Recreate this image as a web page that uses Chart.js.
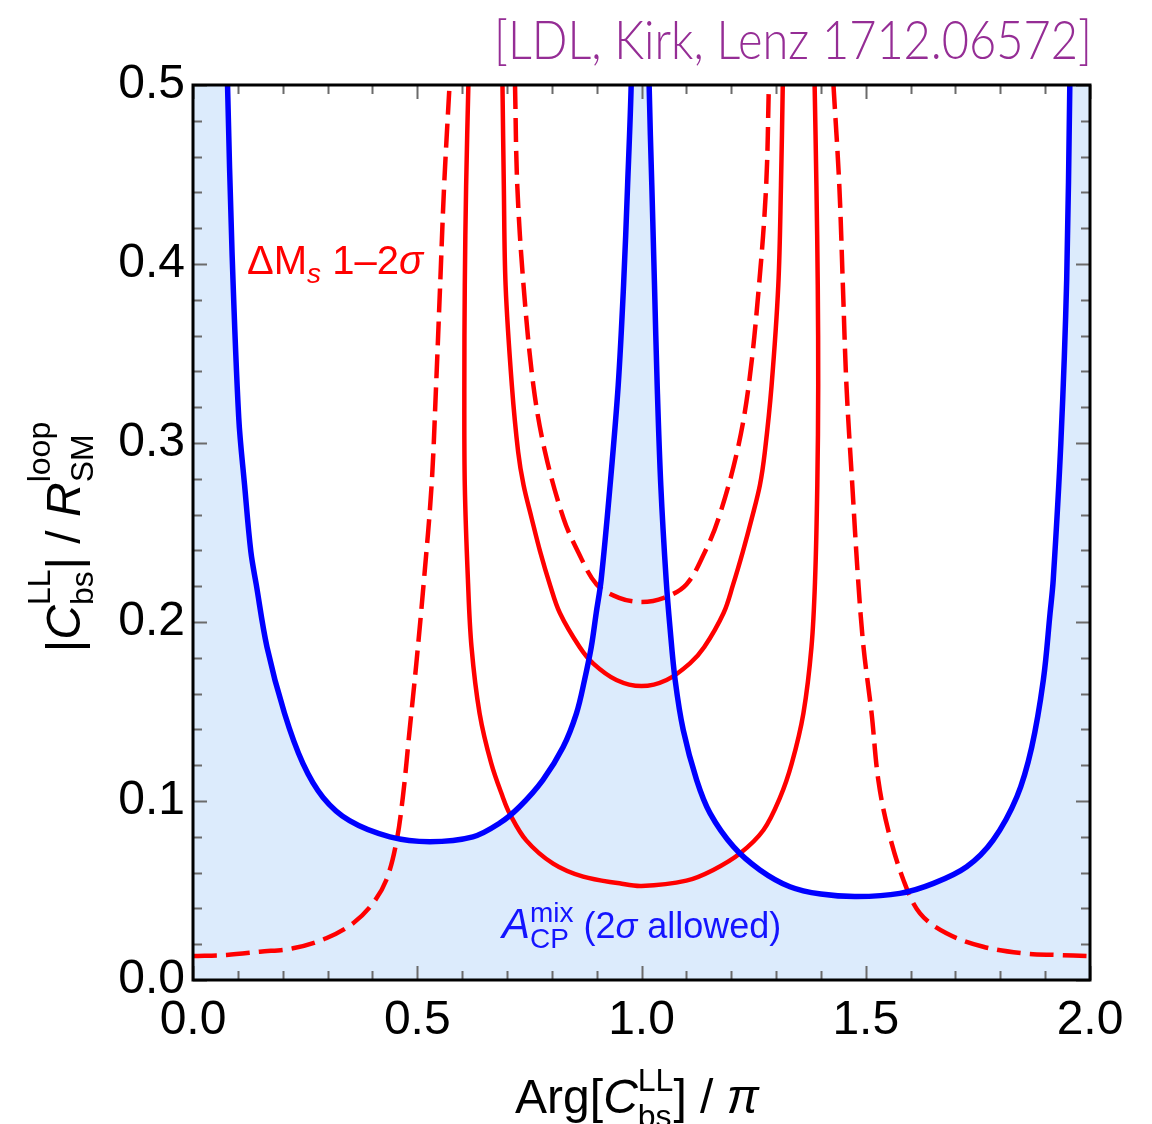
<!DOCTYPE html>
<html>
<head>
<meta charset="utf-8">
<title>|C_bs^LL| vs Arg</title>
<script src="https://cdn.jsdelivr.net/npm/chart.js@4.4.1/dist/chart.umd.min.js"></script>
<style>
  html, body { margin: 0; padding: 0; background: #fff; }
  #wrap { width: 1152px; height: 1124px; }
</style>
</head>
<body>
<div id="wrap"><canvas id="c" width="1152" height="1124"></canvas></div>
<script>
/* ============================================================
   |C_bs^LL| / R_SM^loop  vs  Arg[C_bs^LL] / pi
   - blue: A_CP^mix 2σ boundary (region below is allowed, shaded)
   - red : ΔM_s 1σ (solid) / 2σ (dashed) contours
   values; >0.5 = curve runs out of the frame
   ============================================================ */

// ---------- data ----------
const blueArg = [0.000, 0.066, 0.077, 0.087, 0.102, 0.115, 0.129, 0.141, 0.165, 0.204, 0.245, 0.290, 0.349, 0.439, 0.528,
  0.624, 0.684, 0.728, 0.780, 0.825, 0.855, 0.873, 0.888, 0.899, 0.910, 0.930, 0.948, 0.960, 0.969, 0.977, 0.985,
  1.000, 1.011, 1.017, 1.023, 1.029, 1.035, 1.043, 1.055, 1.064, 1.075, 1.093, 1.123, 1.153, 1.205, 1.264, 1.331,
  1.400, 1.480, 1.576, 1.651, 1.725, 1.784, 1.837, 1.870, 1.896, 1.911, 1.918, 1.935, 1.948, 1.955, 1.961, 2.000];
const blueMag = [0.80, 0.62, 0.500, 0.407, 0.314, 0.2765, 0.2393, 0.221, 0.186, 0.149, 0.121, 0.102, 0.089, 0.080, 0.0773,
  0.080, 0.0877, 0.0968, 0.1117, 0.130, 0.149, 0.1676, 0.186, 0.205, 0.2235, 0.2765, 0.332, 0.388, 0.444, 0.500, 0.60,
  0.80, 0.60, 0.500, 0.444, 0.388, 0.332, 0.2765, 0.2235, 0.1955, 0.1676, 0.1397, 0.1117, 0.0931, 0.0745, 0.0615, 0.0521,
  0.0480, 0.0466, 0.0484, 0.054, 0.0633, 0.0782, 0.1024, 0.130, 0.1676, 0.205, 0.2235, 0.300, 0.391, 0.500, 0.60, 0.80];

// ΔM_s 2σ, outer branches (dashed)
const dashOutLArg = [0.000, 0.075, 0.149, 0.223, 0.297, 0.357, 0.401, 0.431, 0.453, 0.468, 0.483, 0.498, 0.515,
  0.532, 0.542, 0.551, 0.560, 0.572];
const dashOutLMag = [0.0134, 0.0140, 0.0158, 0.0177, 0.0233, 0.0317, 0.0428, 0.0559, 0.0764, 0.1024, 0.1397,
  0.1769, 0.2235, 0.2765, 0.332, 0.388, 0.444, 0.500];
const dashOutRArg = [1.428, 1.441, 1.449, 1.457, 1.470, 1.483, 1.495, 1.513, 1.528, 1.550, 1.584, 1.621, 1.680,
  1.762, 1.851, 1.925, 2.000];
const dashOutRMag = [0.500, 0.444, 0.388, 0.332, 0.2765, 0.2235, 0.186, 0.149, 0.1117, 0.0838, 0.0559, 0.0372,
  0.0261, 0.0186, 0.0149, 0.0140, 0.0134];

// ΔM_s 1σ, outer U (solid)
const solidOutArg = [0.614, 0.609, 0.606, 0.605, 0.606, 0.613, 0.621, 0.639, 0.665, 0.691, 0.706, 0.743, 0.803,
  0.870, 0.951, 1.000, 1.100, 1.160, 1.220, 1.272, 1.309, 1.335, 1.361, 1.379, 1.387, 1.392, 1.394, 1.393,
  1.390, 1.386];
const solidOutMag = [0.500, 0.444, 0.388, 0.332, 0.2765, 0.2235, 0.186, 0.149, 0.121, 0.102, 0.093, 0.078, 0.065,
  0.0577, 0.054, 0.0525, 0.0555, 0.0615, 0.0708, 0.0838, 0.102, 0.121, 0.149, 0.186, 0.2235, 0.2765,
  0.332, 0.388, 0.444, 0.500];

// ΔM_s 1σ, inner U (solid)
const solidInArg = [0.690, 0.693, 0.697, 0.711, 0.725, 0.737, 0.755, 0.774, 0.796, 0.818, 0.862, 0.892, 0.944,
  1.000, 1.056, 1.108, 1.140, 1.183, 1.204, 1.226, 1.246, 1.264, 1.275, 1.290, 1.305, 1.311, 1.315];
const solidInMag = [0.500, 0.444, 0.388, 0.332, 0.295, 0.2765, 0.258, 0.2393, 0.2207, 0.205, 0.186, 0.1769,
  0.1676, 0.1642, 0.1676, 0.1769, 0.186, 0.205, 0.2207, 0.2393, 0.258, 0.2765, 0.295, 0.332, 0.388, 0.444, 0.500];

// ΔM_s 2σ, inner U (dashed)
const dashInArg = [0.718, 0.723, 0.737, 0.759, 0.785, 0.826, 0.859, 0.900, 0.950, 1.000, 1.050, 1.100, 1.141,
  1.172, 1.213, 1.239, 1.262, 1.278, 1.284];
const dashInMag = [0.500, 0.444, 0.388, 0.332, 0.295, 0.258, 0.239, 0.221, 0.2135, 0.2112, 0.2135, 0.221, 0.239,
  0.258, 0.295, 0.332, 0.388, 0.444, 0.500];

const xTicks = [0.0, 0.5, 1.0, 1.5, 2.0];
const yTicks = [0.0, 0.1, 0.2, 0.3, 0.4, 0.5];

// ---------- style ----------
const SANS = '"Liberation Sans", Arial, sans-serif';
const RED = '#ff0000', BLUE = '#0000ff', SHADE = '#dcebfc';
const DASH = [24, 9];

const pts = (xs, ys) => xs.map((x, i) => ({ x, y: ys[i] }));

function redLine(xs, ys, dashed) {
  return {
    data: pts(xs, ys), borderColor: RED, borderWidth: 4.5, borderDash: dashed ? DASH : [],
    borderCapStyle: 'butt', fill: false, pointRadius: 0, clip: 0, order: 1,
  };
}

// ---------- rich text (sub/superscripts) ----------
function setFont(ctx, r) {
  ctx.font = (r.italic ? 'italic ' : '') + (r.weight || 'normal') + ' ' + r.size + 'px ' + (r.family || SANS);
}
function runWidth(ctx, r) {
  if (r.stack) return Math.max(...r.stack.map(s => runWidth(ctx, s)));
  setFont(ctx, r); return ctx.measureText(r.t).width;
}
function drawRich(ctx, runs, x, y, align) {
  const total = runs.reduce((a, r) => a + runWidth(ctx, r), 0);
  let cx = align === 'center' ? x - total / 2 : x;
  ctx.textAlign = 'left'; ctx.textBaseline = 'alphabetic';
  runs.forEach(r => {
    const parts = r.stack || [r];
    parts.forEach(p => { setFont(ctx, p); ctx.fillText(p.t, cx, y + (p.dy || 0)); });
    cx += runWidth(ctx, r);
  });
}

// ---------- frame, inward ticks, labels ----------
const decor = {
  id: 'decor',
  afterDatasetsDraw(chart) {
    const { ctx, chartArea: a, scales: { x, y } } = chart;
    ctx.save();
    ctx.strokeStyle = '#6b6b6b'; ctx.lineWidth = 2;
    ctx.beginPath();
    for (let i = 0; i <= 20; i++) {                 // x: minor 0.1, major 0.5
      const px = Math.round(x.getPixelForValue(i / 10)) + 0.5, len = i % 5 === 0 ? 14 : 9;
      ctx.moveTo(px, a.bottom); ctx.lineTo(px, a.bottom - len);
      ctx.moveTo(px, a.top); ctx.lineTo(px, a.top + len);
    }
    for (let i = 0; i <= 25; i++) {                 // y: minor 0.02, major 0.1
      const py = Math.round(y.getPixelForValue(i / 50)) + 0.5, len = i % 5 === 0 ? 14 : 9;
      ctx.moveTo(a.left, py); ctx.lineTo(a.left + len, py);
      ctx.moveTo(a.right, py); ctx.lineTo(a.right - len, py);
    }
    ctx.stroke();
    ctx.strokeStyle = '#000'; ctx.lineWidth = 3;
    ctx.strokeRect(a.left, a.top, a.right - a.left, a.bottom - a.top);
    ctx.restore();
  },
  afterDraw(chart) {
    const { ctx } = chart;
    ctx.save();

    // citation, top right
    ctx.fillStyle = '#952d95';
    const cite = '[LDL, Kirk, Lenz 1712.06572]';
    ctx.font = '300 54px Lato, "Open Sans", sans-serif';
    const w = ctx.measureText(cite).width, target = 598;
    ctx.save();
    ctx.translate(1092 - target, 59); ctx.scale(target / w, 1);
    ctx.textAlign = 'left'; ctx.textBaseline = 'alphabetic';
    ctx.fillText(cite, 0, 0);
    ctx.restore();

    // ΔM_s label
    ctx.fillStyle = RED;
    drawRich(ctx, [
      { t: 'ΔM', size: 40 }, { t: 's', size: 28, italic: true, dy: 9 },
      { t: ' 1–2', size: 40 }, { t: 'σ', size: 40, italic: true },
    ], 247, 274);

    // A_CP^mix label
    ctx.fillStyle = '#1414ff';
    drawRich(ctx, [
      { t: 'A', size: 42, italic: true },
      { stack: [{ t: 'mix', size: 28, dy: -16 }, { t: 'CP', size: 28, dy: 10 }] },
      { t: ' (2', size: 36 }, { t: 'σ', size: 36, italic: true }, { t: ' allowed)', size: 36 },
    ], 502, 938);

    // axis titles
    ctx.fillStyle = '#000';
    drawRich(ctx, [
      { t: 'Arg[', size: 48 }, { t: 'C', size: 48, italic: true },
      { stack: [{ t: 'LL', size: 32, dy: -22 }, { t: 'bs', size: 32, dy: 14 }] },
      { t: '] / ', size: 48 }, { t: 'π', size: 48, italic: true },
    ], 637, 1113, 'center');

    ctx.save();
    ctx.translate(80, 537); ctx.rotate(-Math.PI / 2);
    drawRich(ctx, [
      { t: '|', size: 48 }, { t: 'C', size: 48, italic: true },
      { stack: [{ t: 'LL', size: 32, dy: -30 }, { t: 'bs', size: 32, dy: 13 }] },
      { t: '| / ', size: 48 }, { t: 'R', size: 48, italic: true },
      { stack: [{ t: 'loop', size: 32, dy: -30 }, { t: 'SM', size: 32, dy: 13 }] },
    ], 0, 0, 'center');
    ctx.restore();

    ctx.restore();
  },
};

// ---------- chart ----------
Chart.defaults.font.family = SANS;

new Chart(document.getElementById('c'), {
  type: 'line',
  data: {
    datasets: [
      { data: pts(blueArg, blueMag), borderColor: BLUE, borderWidth: 5.5, backgroundColor: SHADE,
        fill: 'origin', pointRadius: 0, clip: 0, order: 0 },
      redLine(solidInArg, solidInMag, false),
      redLine(solidOutArg, solidOutMag, false),
      redLine(dashInArg, dashInMag, true),
      redLine(dashOutLArg, dashOutLMag, true),
      redLine(dashOutRArg, dashOutRMag, true),
    ],
  },
  options: {
    responsive: false, animation: false, devicePixelRatio: 1,
    layout: { padding: { top: 85, right: 62, left: 0, bottom: 0 } },
    elements: { line: { tension: 0.35 }, point: { radius: 0 } },
    plugins: {
      legend: { display: false }, tooltip: { enabled: false },
      filler: { drawTime: 'beforeDatasetsDraw' },
    },
    scales: {
      x: {
        type: 'linear', min: 0, max: 2,
        grid: { display: false, drawTicks: false }, border: { display: false },
        afterBuildTicks: s => { s.ticks = xTicks.map(v => ({ value: v })); },
        ticks: { color: '#000', font: { size: 48 }, padding: 12, maxRotation: 0, autoSkip: false,
                 callback: v => v.toFixed(1) },
        afterFit: s => { s.height = 144; },
      },
      y: {
        type: 'linear', min: 0, max: 0.5,
        grid: { display: false, drawTicks: false }, border: { display: false },
        afterBuildTicks: s => { s.ticks = yTicks.map(v => ({ value: v })); },
        ticks: { color: '#000', font: { size: 48 }, padding: 8, autoSkip: false,
                 callback: v => v.toFixed(1) },
        afterFit: s => { s.width = 193; },
      },
    },
  },
  plugins: [decor],
});
</script>
</body>
</html>
